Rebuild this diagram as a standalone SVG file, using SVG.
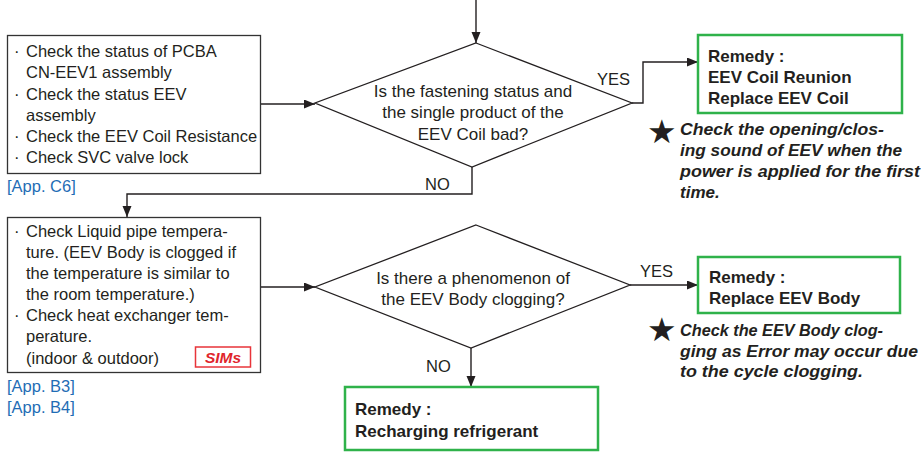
<svg xmlns="http://www.w3.org/2000/svg" width="921" height="452" viewBox="0 0 921 452">
<defs>
<marker id="arr" markerUnits="userSpaceOnUse" markerWidth="12" markerHeight="10" refX="11" refY="4.5" orient="auto">
<path d="M0,0 L11,4.5 L0,9 z" fill="#231f20"/>
</marker>
<style>
.t{font-family:"Liberation Sans",Arial,sans-serif;font-size:16.5px;fill:#231f20}
.d{font-family:"Liberation Sans",Arial,sans-serif;font-size:17px;fill:#231f20}
.b{font-family:"Liberation Sans",Arial,sans-serif;font-size:17px;font-weight:bold;fill:#231f20}
.i{font-family:"Liberation Sans",Arial,sans-serif;font-size:17px;font-weight:bold;font-style:italic;fill:#231f20}
.app{font-family:"Liberation Sans",Arial,sans-serif;font-size:16.5px;fill:#1f6db5}
.box{fill:#fff;stroke:#333;stroke-width:1.3}
.rem{fill:#fff;stroke:#2fb24a;stroke-width:2.5}
.dia{fill:#fff;stroke:#231f20;stroke-width:1.3}
.c{fill:none;stroke:#231f20;stroke-width:1.4}
.star{font-family:"DejaVu Sans",sans-serif;font-size:33px;fill:#231f20}
</style>
</defs>
<rect width="921" height="452" fill="#fff"/>
<g id="connectors">
<path class="c" d="M476,0 V43" marker-end="url(#arr)"/>
<path class="c" d="M260,104 H315" marker-end="url(#arr)"/>
<path class="c" d="M632,103 H643 V62 H698" marker-end="url(#arr)"/>
<path class="c" d="M472,167 V194 H127 V217" marker-end="url(#arr)"/>
<path class="c" d="M260,287 H315" marker-end="url(#arr)"/>
<path class="c" d="M630,285 H698" marker-end="url(#arr)"/>
<path class="c" d="M471,348 V387" marker-end="url(#arr)"/>
<text class="t" x="597" y="85">YES</text>
<text class="t" x="425" y="190">NO</text>
<text class="t" x="640" y="277">YES</text>
<text class="t" x="426" y="372">NO</text>
</g>
<g id="check1">
<rect class="box" x="7.5" y="35.5" width="253" height="138"/>
<text class="t" x="14" y="57">·</text>
<text class="t" x="26" y="57">Check the status of PCBA</text>
<text class="t" x="26" y="78">CN-EEV1 assembly</text>
<text class="t" x="14" y="100">·</text>
<text class="t" x="26" y="100">Check the status EEV</text>
<text class="t" x="26" y="121">assembly</text>
<text class="t" x="14" y="142">·</text>
<text class="t" x="26" y="142">Check the EEV Coil Resistance</text>
<text class="t" x="14" y="163">·</text>
<text class="t" x="26" y="163">Check SVC valve lock</text>
<text class="app" x="7" y="192">[App. C6]</text>
</g>
<g id="decision1">
<polygon class="dia" points="476,43 632,103 472,167 315,103"/>
<text class="d" x="473" y="97" text-anchor="middle">Is the fastening status and</text>
<text class="d" x="473" y="118" text-anchor="middle">the single product of the</text>
<text class="d" x="473" y="140" text-anchor="middle">EEV Coil bad?</text>
</g>
<g id="remedy1">
<rect class="rem" x="698" y="35" width="204" height="78"/>
<text class="b" x="708" y="62">Remedy :</text>
<text class="b" x="708" y="83">EEV Coil Reunion</text>
<text class="b" x="708" y="104">Replace EEV Coil</text>
</g>
<g id="note1">
<text class="star" x="647" y="143">★</text>
<text class="i" x="680" y="135" textLength="204" lengthAdjust="spacingAndGlyphs">Check the opening/clos-</text>
<text class="i" x="680" y="156" textLength="222" lengthAdjust="spacingAndGlyphs">ing sound of EEV when the</text>
<text class="i" x="680" y="177" textLength="240" lengthAdjust="spacingAndGlyphs">power is applied for the first</text>
<text class="i" x="680" y="198">time.</text>
</g>
<g id="check2">
<rect class="box" x="7.5" y="217.5" width="253" height="155"/>
<text class="t" x="14" y="237">·</text>
<text class="t" x="26" y="237">Check Liquid pipe tempera-</text>
<text class="t" x="26" y="258">ture. (EEV Body is clogged if</text>
<text class="t" x="26" y="279">the temperature is similar to</text>
<text class="t" x="26" y="300">the room temperature.)</text>
<text class="t" x="14" y="321">·</text>
<text class="t" x="26" y="321">Check heat exchanger tem-</text>
<text class="t" x="26" y="342">perature.</text>
<text class="t" x="26" y="364">(indoor &amp; outdoor)</text>
<rect x="195.5" y="347" width="55" height="20" fill="#fff" stroke="#e8343a" stroke-width="1.5"/>
<text x="223" y="363" text-anchor="middle" font-family="Liberation Sans, Arial, sans-serif" font-size="15.5" font-weight="bold" font-style="italic" fill="#e0262c">SIMs</text>
<text class="app" x="7" y="392">[App. B3]</text>
<text class="app" x="7" y="413">[App. B4]</text>
</g>
<g id="decision2">
<polygon class="dia" points="476,225 630,285 471,348 315,287"/>
<text class="d" x="473" y="284" text-anchor="middle">Is there a phenomenon of</text>
<text class="d" x="473" y="305" text-anchor="middle">the EEV Body clogging?</text>
</g>
<g id="remedy2">
<rect class="rem" x="698" y="257" width="202" height="56"/>
<text class="b" x="709" y="283">Remedy :</text>
<text class="b" x="709" y="304">Replace EEV Body</text>
</g>
<g id="note2">
<text class="star" x="647" y="341">★</text>
<text class="i" x="680" y="336" textLength="203" lengthAdjust="spacingAndGlyphs">Check the EEV Body clog-</text>
<text class="i" x="680" y="357" textLength="238" lengthAdjust="spacingAndGlyphs">ging as Error may occur due</text>
<text class="i" x="680" y="377" textLength="183" lengthAdjust="spacingAndGlyphs">to the cycle clogging.</text>
</g>
<g id="remedy3">
<rect class="rem" x="345" y="387" width="253" height="63"/>
<text class="b" x="355" y="415">Remedy :</text>
<text class="b" x="355" y="437">Recharging refrigerant</text>
</g>
</svg>
